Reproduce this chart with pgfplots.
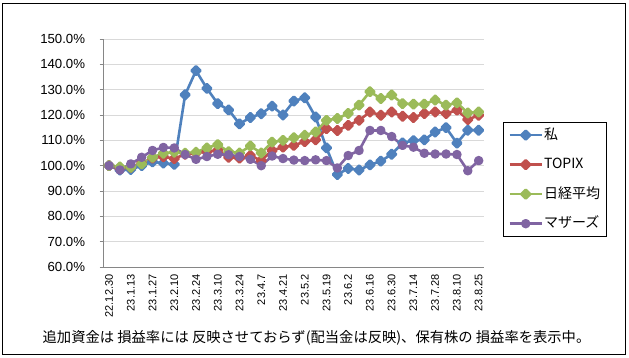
\documentclass[border=0pt]{standalone}
\usepackage{pgfplots}
\usepackage{pgfplotstable}
\pgfplotsset{compat=1.18}
\usepackage{fontspec}
\setmainfont{Liberation Sans}
\newfontfamily\jp{Noto Sans CJK JP}
\definecolor{cBlue}{HTML}{4F81BD}
\definecolor{cRed}{HTML}{C0504D}
\definecolor{cGreen}{HTML}{9BBB59}
\definecolor{cPurple}{HTML}{8064A2}
\definecolor{cGrid}{HTML}{D9D9D9}
\definecolor{cAxis}{HTML}{868686}

\pgfplotstableread{
i me topix nikkei mothers
0 100 100 100 100
1 98.3 99.0 99.5 98.3
2 98.5 99.3 99.3 100.7
3 100.0 101.0 100.7 103.3
4 101.5 103.0 103.3 106.0
5 101.0 103.5 104.9 107.2
6 100.5 102.8 105.3 107.0
7 128.0 104.5 104.9 104.4
8 137.5 105.0 105.3 102.5
9 130.5 105.5 107.0 103.6
10 124.5 106.0 108.3 104.5
11 122.0 103.3 105.5 104.3
12 116.5 103.0 105.0 103.6
13 119.0 104.0 107.8 102.5
14 120.5 102.0 105.0 100.0
15 123.5 106.0 109.3 103.8
16 120.0 107.3 110.0 102.8
17 125.5 108.0 111.0 102.2
18 126.8 109.5 112.0 102.0
19 119.2 110.2 113.3 102.3
20 107.0 114.6 117.9 102.0
21 96.5 113.9 118.6 99.1
22 98.9 115.9 120.6 104.0
23 98.3 117.9 123.9 106.0
24 100.3 121.2 129.2 113.9
25 101.8 119.9 126.5 113.9
26 104.5 121.2 127.9 111.5
27 109.0 119.5 124.5 108.0
28 109.9 119.0 124.3 107.3
29 110.2 120.6 124.3 104.9
30 113.3 121.2 125.9 104.6
31 115.0 120.6 123.9 104.6
32 108.9 121.9 124.8 104.4
33 114.0 118.2 120.8 98.0
34 114.0 119.9 121.2 102.0
}\datatable

\begin{document}
\begin{tikzpicture}[x=1pt,y=1pt]
\useasboundingbox (0,0) rectangle (629,358);
\draw[line width=1.2pt] (2.5,3.3) rectangle (625.5,354.7);
\begin{axis}[
  at={(103.6pt,91pt)}, anchor=south west,
  scale only axis, width=380.5pt, height=228pt,
  xmin=-0.5, xmax=34.5, ymin=60, ymax=150,
  axis lines=left,
  axis line style={-, draw=cAxis, line width=0.8pt},
  ymajorgrids, grid style={draw=cGrid, line width=0.8pt},
  ytick={60,70,...,150},
  yticklabels={60.0\%,70.0\%,80.0\%,90.0\%,100.0\%,110.0\%,120.0\%,130.0\%,140.0\%,150.0\%},
  yticklabel style={font=\fontsize{13.2}{15}\selectfont, text=black, anchor=east, xshift=-11pt},
  tick align=outside,
  ytick style={draw=cAxis, line width=0.8pt},
  major tick length=4pt,
  xtick={0,2,...,34},
  xticklabels={22.12.30,23.1.13,23.1.27,23.2.10,23.2.24,23.3.10,23.3.24,23.4.7,23.4.21,23.5.2,23.5.19,23.6.2,23.6.16,23.6.30,23.7.14,23.7.28,23.8.10,23.8.25},
  xtick style={draw=none},
  xticklabel style={rotate=90, anchor=east, font=\fontsize{11}{12}\selectfont, text=black},
  every axis plot/.append style={line width=2.6pt, line join=round},
  legend image code/.code={\draw[mark repeat=2, mark phase=2] plot coordinates {(0pt,0pt) (16pt,0pt) (32pt,0pt)};},
  legend cell align=left,
  legend style={at={(1.0497,0.637)}, anchor=north west, draw=black, line width=0.8pt, fill=white,
    font=\jp\fontsize{14}{16}\selectfont, inner xsep=5pt, inner ysep=5pt, row sep=13.5pt,
    nodes={inner sep=1pt, text height=11pt, text depth=3pt}},
  clip=false,
]
\addplot[color=cBlue, mark=square*, mark size=3.1pt, mark options={rotate=45, solid}] table[x=i,y=me] {\datatable};
\addlegendentry{私}
\addplot[color=cRed, mark=square*, mark size=3.1pt, mark options={rotate=45, solid}] table[x=i,y=topix] {\datatable};
\addlegendentry{TOPIX}
\addplot[color=cGreen, mark=square*, mark size=3.1pt, mark options={rotate=45, solid}] table[x=i,y=nikkei] {\datatable};
\addlegendentry{日経平均}
\addplot[color=cPurple, mark=*, mark size=3.4pt, mark options={solid}] table[x=i,y=mothers] {\datatable};
\addlegendentry{マザーズ}
\end{axis}
\node[font=\jp\fontsize{14.3}{16}\selectfont, anchor=center] at (316.5,20) {追加資金は 損益率には 反映させておらず(配当金は反映)、保有株の 損益率を表示中。};
\end{tikzpicture}
\end{document}
